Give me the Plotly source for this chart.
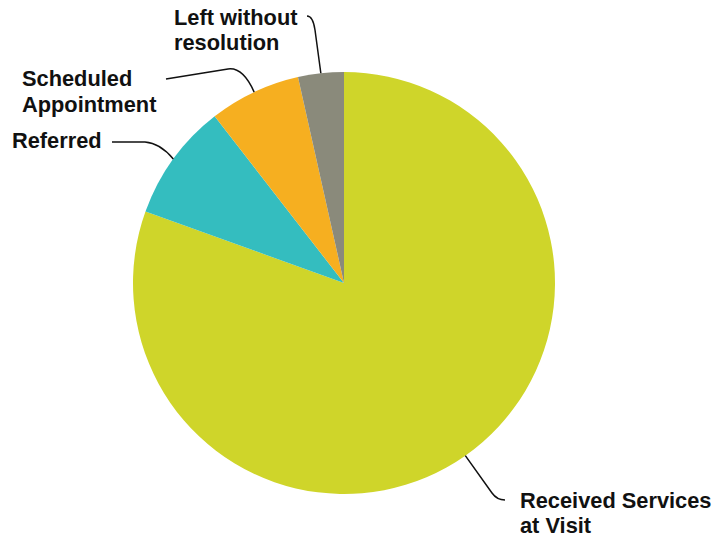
import math
import plotly.graph_objects as go

# Visit outcomes (share of visits, %)
categories = ["Received Services at Visit", "Referred", "Scheduled Appointment", "Left without resolution"]
values = [80.5, 9.0, 7.0, 3.5]
colors = ["#CFD52A", "#34BDBF", "#F6AF20", "#8A8A7B"]

# Label text, one entry per line
label_lines = [
    ["Received Services", "at Visit"],
    ["Referred"],
    ["Scheduled", "Appointment"],
    ["Left without", "resolution"],
]

W, H = 715, 540
CX, CY, R = 344, 283, 211  # pie centre and radius in pixels


def px(x, y):
    """Pixel position -> paper coordinates."""
    return x / W, 1 - y / H


fig = go.Figure(
    go.Pie(
        labels=categories,
        values=values,
        sort=False,
        direction="clockwise",
        rotation=0,
        marker=dict(colors=colors, line=dict(width=0)),
        textinfo="none",
        hoverinfo="label+percent",
        domain=dict(x=[(CX - R) / W, (CX + R) / W], y=[(H - CY - R) / H, (H - CY + R) / H]),
    )
)

# slice mid-angles (clockwise from 12 o'clock)
total = sum(values)
mids = []
acc = 0.0
for v in values:
    mids.append((acc + v / 2) / total * 2 * math.pi)
    acc += v


def edge(i):
    a = mids[i]
    return CX + R * math.sin(a), CY - R * math.cos(a)


def path(points):
    cmds = []
    for kind, pts in points:
        coords = " ".join("%.5f,%.5f" % px(*p) for p in pts)
        cmds.append(kind + " " + coords)
    return " ".join(cmds)


# leader lines: from each slice edge to its label
leaders = []
ex, ey = edge(0)
leaders.append([("M", [(ex, ey)]), ("L", [(492, 493)]), ("Q", [(497, 500), (505, 500)])])
ex, ey = edge(1)
leaders.append([("M", [(112, 142)]), ("L", [(145, 142)]), ("Q", [(160, 143), (ex, ey)])])
ex, ey = edge(2)
leaders.append([("M", [(166, 79)]), ("L", [(228, 69)]), ("Q", [(243, 67), (ex, ey)])])
ex, ey = edge(3)
leaders.append([("M", [(ex, ey)]), ("L", [(315, 30)]), ("Q", [(313, 16), (307, 16)])])

for pts in leaders:
    fig.add_shape(type="path", path=path(pts), xref="paper", yref="paper",
                  line=dict(color="#111111", width=1.5))

# label positions: left edge x, baseline y of first line (pixels)
label_pos = [(518, 507), (10, 148), (20, 86), (172, 25)]
LINE_GAP = 25
FONT_SIZE = 21.8

for lines, (lx, by) in zip(label_lines, label_pos):
    for k, line in enumerate(lines):
        x, y = px(lx, by + k * LINE_GAP - 7)
        fig.add_annotation(
            x=x, y=y, xref="paper", yref="paper",
            text="<b>" + line + "</b>", showarrow=False,
            xanchor="left", yanchor="middle",
            font=dict(family="Liberation Sans, Arial, sans-serif", size=FONT_SIZE, color="#111111"),
        )

fig.update_layout(
    width=W, height=H,
    margin=dict(l=0, r=0, t=0, b=0),
    showlegend=False,
    paper_bgcolor="white",
    plot_bgcolor="white",
)

fig.write_html("out.html")
